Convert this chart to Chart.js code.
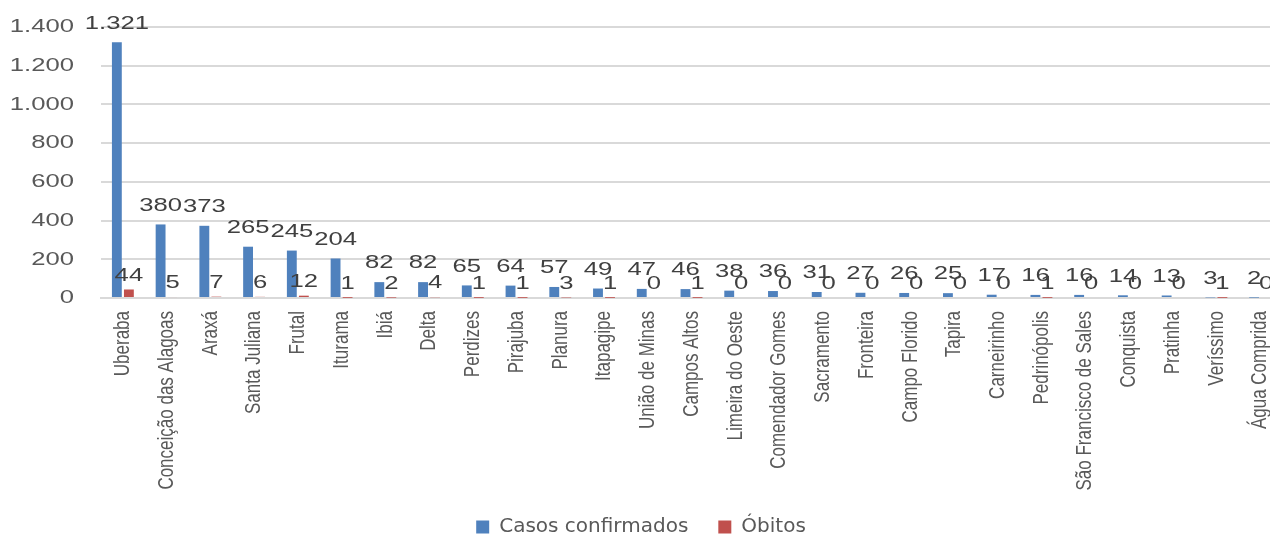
<!DOCTYPE html>
<html>
<head>
<meta charset="utf-8">
<script src="https://cdn.jsdelivr.net/npm/chart.js@4"></script>
<style>
  html, body { margin: 0; background: #fff; overflow: hidden; }
  canvas { display: block; }
</style>
</head>
<body>
<!-- a bit wider than the window: the original crops the last category -->
<canvas id="myChart" width="1282" height="536"></canvas>
<script>
var municipios = ['Uberaba', 'Conceição das Alagoas', 'Araxá', 'Santa Juliana', 'Frutal', 'Iturama', 'Ibiá', 'Delta',
    'Perdizes', 'Pirajuba', 'Planura', 'Itapagipe', 'União de Minas', 'Campos Altos', 'Limeira do Oeste',
    'Comendador Gomes', 'Sacramento', 'Fronteira', 'Campo Florido', 'Tapira', 'Carneirinho', 'Pedrinópolis',
    'São Francisco de Sales', 'Conquista', 'Pratinha', 'Veríssimo', 'Água Comprida'];
var casos = [1321, 380, 373, 265, 245, 204, 82, 82, 65, 64, 57, 49, 47, 46, 38, 36, 31, 27, 26, 25, 17, 16, 16, 14, 13, 3, 2];
var obitos = [44, 5, 7, 6, 12, 1, 2, 4, 1, 1, 3, 1, 0, 1, 0, 0, 0, 0, 0, 0, 0, 1, 0, 0, 0, 1, 0];
var yTicks = [0, 200, 400, 600, 800, 1000, 1200, 1400];

var FONT = '"Liberation Sans", Arial, sans-serif';
var STRETCH = 1.35; // the original picture is drawn wide

function fmt(v) {
    return String(v).replace(/\B(?=(\d{3})+(?!\d))/g, '.');
}

function wideText(ctx, text, x, y, rot) {
    ctx.save();
    ctx.translate(x, y);
    if (rot) {
        ctx.rotate(-Math.PI / 2);
        ctx.scale(1, STRETCH);
    } else {
        ctx.scale(STRETCH, 1);
    }
    ctx.fillText(text, 0, 0);
    ctx.restore();
}

// tick texts and data labels
var textLayer = {
    id: 'textLayer',
    afterDatasetsDraw: function (chart) {
        var ctx = chart.ctx;
        var xs = chart.scales.x, ys = chart.scales.y;
        ctx.save();
        ctx.textBaseline = 'middle';

        // y tick labels
        ctx.font = '19px ' + FONT;
        ctx.fillStyle = '#595959';
        ctx.textAlign = 'right';
        yTicks.forEach(function (v) {
            wideText(ctx, fmt(v), 74, ys.getPixelForValue(v), false);
        });

        // x category labels, vertical
        ctx.font = '17px ' + FONT;
        ctx.textAlign = 'right';
        municipios.forEach(function (name, i) {
            wideText(ctx, name, xs.getPixelForTick(i), xs.top + 13, true);
        });

        // values above bars
        ctx.font = '19px ' + FONT;
        ctx.fillStyle = '#404040';
        ctx.textAlign = 'center';
        chart.data.datasets.forEach(function (ds, i) {
            var meta = chart.getDatasetMeta(i);
            var off = i === 0 ? 19 : 14;
            meta.data.forEach(function (bar, j) {
                wideText(ctx, fmt(ds.data[j]), bar.x, bar.y - off, false);
            });
        });
        ctx.restore();
    }
};

var ctx = document.getElementById('myChart').getContext('2d');
var myChart = new Chart(ctx, {
    type: 'bar',
    data: {
        labels: municipios,
        datasets: [{
            label: 'Casos confirmados',
            data: casos,
            backgroundColor: '#4F81BD'
        }, {
            label: 'Óbitos',
            data: obitos,
            backgroundColor: '#C0504D'
        }]
    },
    options: {
        responsive: false,
        animation: false,
        devicePixelRatio: 1,
        categoryPercentage: 0.55,
        barPercentage: 0.82,
        layout: {
            padding: { top: 27, left: 0, right: 0, bottom: -11 }
        },
        plugins: {
            legend: {
                position: 'bottom',
                labels: {
                    boxWidth: 13,
                    boxHeight: 13,
                    padding: 30,
                    color: '#595959',
                    font: { family: 'DejaVu Sans', size: 20 }
                }
            },
            tooltip: { enabled: false }
        },
        scales: {
            x: {
                grid: { display: false },
                border: { display: true, color: '#D9D9D9', width: 2 },
                ticks: { display: false },
                afterFit: function (axis) { axis.height = 189; }
            },
            y: {
                min: 0,
                max: 1400,
                afterBuildTicks: function (axis) {
                    axis.ticks = yTicks.map(function (v) { return { value: v }; });
                },
                grid: { color: '#D9D9D9', lineWidth: 2, drawTicks: false },
                border: { display: false },
                ticks: { display: false },
                afterFit: function (axis) { axis.width = 101; }
            }
        }
    },
    plugins: [textLayer]
});
</script>
</body>
</html>
